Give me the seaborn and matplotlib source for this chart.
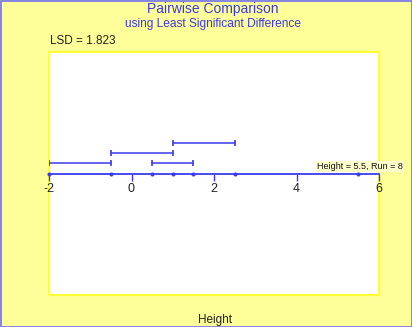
import matplotlib
matplotlib.use("Agg")
import matplotlib.pyplot as plt
import seaborn as sns
import pandas as pd
from matplotlib.patches import Rectangle

# Data
means = [-2.0, -0.5, 0.5, 1.0, 1.5, 2.5, 5.5]
int_lo = [-2.0, 0.5, -0.5, 1.0]
int_hi = [-0.5, 1.5, 1.0, 2.5]
int_row = [1, 1, 2, 3]
xticks = [-2, 0, 2, 4, 6]
lsd_text = "LSD = 1.823"
hover_text = "Height = 5.5, Run = 8"

sns.set_theme(style="white")
plt.rcParams['font.family'] = ['Liberation Sans', 'DejaVu Sans']

BG = "#FFFF99"
BLUE = "#3A3AF0"

fig = plt.figure(figsize=(4.12, 3.27), dpi=100, facecolor=BG)
ax = fig.add_axes([49/412, 1-295/327, 330/412, 243/327])
ax.set_facecolor("white")

df_pts = pd.DataFrame({"x": means, "y": [0]*len(means)})
for lo, hi, r in zip(int_lo, int_hi, int_row):
    seg = pd.DataFrame({"x": [lo, hi], "y": [r, r]})
    sns.lineplot(data=seg, x="x", y="y", ax=ax, color=BLUE, lw=1.1,
                 marker="|", markersize=4.5, markeredgewidth=1.2,
                 markeredgecolor=BLUE, markerfacecolor=BLUE)
sns.scatterplot(data=df_pts, x="x", y="y", ax=ax, color=BLUE, s=7,
                marker="o", edgecolor=BLUE, zorder=5, clip_on=False)

ax.set_xlim(-2, 6)
ax.set_ylim(-12.1, 12.1)
ax.set_xticks(xticks)
ax.set_xticklabels([str(t) for t in xticks])
ax.set_yticks([])
ax.set_xlabel("")
ax.set_ylabel("")
for s in ["left", "right", "top"]:
    ax.spines[s].set_visible(False)
ax.spines["bottom"].set_position(("data", 0))
ax.spines["bottom"].set_color(BLUE)
ax.spines["bottom"].set_linewidth(1.3)
ax.tick_params(axis="x", direction="out", length=5, width=1, color=BLUE,
               labelsize=9, labelcolor="#222222", pad=1.5, bottom=True)

ax.add_patch(Rectangle((0, 0), 1, 1, transform=ax.transAxes, fill=False,
                       edgecolor="#FFFF33", lw=1.5, clip_on=False, zorder=0))

ax.text(6.58, 0.7, hover_text, fontsize=6.5, color="#111111", ha="right",
        va="center", clip_on=False,
        bbox=dict(boxstyle="square,pad=0.1", fc="#FFFFCC", ec="none"))

fig.text(213/412, 1-9.5/327, "Pairwise Comparison", color="#3A3AE8",
         fontsize=10, ha="center", va="center")
fig.text(213/412, 1-24.5/327, "using Least Significant Difference",
         color="#3A3AE8", fontsize=8.6, ha="center", va="center")
fig.text(50/412, 1-41.5/327, lsd_text, color="#222222", fontsize=8.5,
         ha="left", va="center")
fig.text(215/412, 1-320/327, "Height", color="#222222", fontsize=8.5,
         ha="center", va="center")

fig.add_artist(Rectangle((0.5/412, 0.5/327), 411/412, 326/327,
                         transform=fig.transFigure, fill=False,
                         edgecolor="#7070F0", lw=1.2))

fig.savefig("out.png", dpi=100, facecolor=BG)
